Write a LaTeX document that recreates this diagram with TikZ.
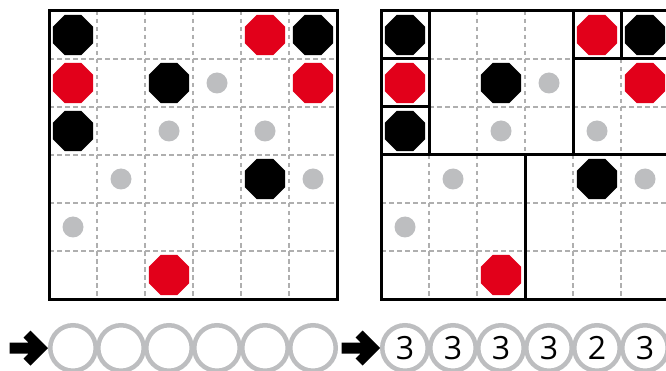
\documentclass[tikz,border=0pt]{standalone}
\usepackage{fontspec}
\setmainfont{Open Sans}
\usetikzlibrary{shapes.geometric,positioning,calc}

\definecolor{stonered}{RGB}{226,0,26}
\definecolor{spotgray}{RGB}{189,190,192}
\definecolor{linegray}{RGB}{175,175,175}

\tikzset{
  stone/.style={regular polygon, regular polygon sides=8, minimum size=43.5pt, inner sep=0pt},
  blackstone/.style={stone, fill=black},
  redstone/.style={stone, fill=stonered},
  spot/.style={circle, fill=spotgray, minimum size=21pt, inner sep=0pt},
  slot/.style={circle, draw=spotgray, line width=4.5pt, minimum size=45.5pt, inner sep=0pt, font=\fontsize{32}{32}\selectfont},
  cellline/.style={linegray, line width=1.7pt, dash pattern=on 4.5pt off 3.5pt},
  frame/.style={line width=3pt},
  region/.style={line width=3pt},
  arrowmark/.pic={
    \fill (-38.5,-5.5) -- (-19.5,-5.5) -- (-24.5,-10.5) -- (-17.5,-17.5) -- (0,0)
      -- (-17.5,17.5) -- (-24.5,10.5) -- (-19.5,5.5) -- (-38.5,5.5) -- cycle;
  }
}

\begin{document}
\begin{tikzpicture}[x=1pt,y=-1pt]
  \useasboundingbox (0,0) rectangle (666,371);
  \clip (0,0) rectangle (666,371);

  % two boards, same stones
  \foreach \gx/\g in {49/L,381/R} {
    \foreach \k in {1,...,5} {
      \draw[cellline] (\gx+48*\k,11) -- (\gx+48*\k,299);
      \draw[cellline] (\gx,11+48*\k) -- (\gx+288,11+48*\k);
    }
    \draw[frame] (\gx,11) rectangle ++(288,288);
    \foreach \c/\r in {0/0,5/0,2/1,0/2,4/3}
      \node[blackstone] (\g b\c\r) at (\gx+24+48*\c,35+48*\r) {};
    \foreach \c/\r in {4/0,0/1,5/1,2/5}
      \node[redstone] (\g r\c\r) at (\gx+24+48*\c,35+48*\r) {};
    \foreach \c/\r in {3/1,2/2,4/2,1/3,5/3,0/4}
      \node[spot] (\g s\c\r) at (\gx+24+48*\c,35+48*\r) {};
  }

  % regions of the right board
  \foreach \c/\r/\w/\h in {0/0/1/1,0/1/1/1,0/2/1/1,1/0/3/3,4/0/1/1,5/0/1/1,4/1/2/2,0/3/3/3,3/3/3/3}
    \draw[region] (381+48*\c,11+48*\r) rectangle ++(48*\w,48*\h);

  % answer rows
  \foreach \i in {0,...,5}
    \node[slot] (sL\i) at (73+48*\i,348) {};
  \foreach \i/\n in {0/3,1/3,2/3,3/3,4/2,5/3}
    \node[slot] (sR\i) at (405+48*\i,348) {\n};
  \pic at (sL0.west) {arrowmark};
  \pic at (sR0.west) {arrowmark};
\end{tikzpicture}
\end{document}
